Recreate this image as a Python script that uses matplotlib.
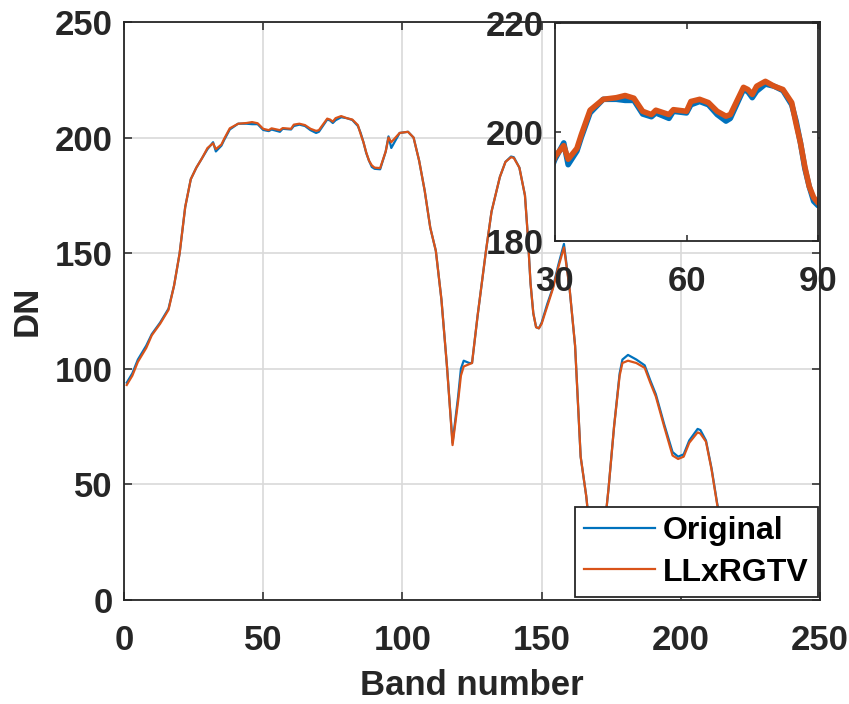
import numpy as np
import matplotlib
matplotlib.use('Agg')
import matplotlib.pyplot as plt

# Numeros de banda y valores DN
bandas = [1, 3, 5, 8, 10, 13, 16, 18, 20, 22, 24, 26, 28, 30, 32, 33, 35, 36,
          38, 41, 44, 46, 48, 50, 52, 53, 56, 57, 60, 61, 63, 65, 67, 69, 70,
          73, 74, 75, 76, 78, 80, 82, 84, 85, 86, 87, 88, 89, 90, 92, 94, 95,
          96, 99, 102, 104, 106, 108, 110, 112, 114, 116, 118, 120, 121, 122,
          124, 125, 127, 130, 132, 135, 137, 139, 140, 142, 144, 145, 146, 147,
          148, 149, 150, 152, 154, 156, 158, 160, 162, 164, 166, 168, 170, 172,
          174, 176, 178, 179, 181, 184, 187, 189, 191, 194, 197, 199, 201, 203,
          206, 207, 209, 211, 213, 215, 218, 220, 224]

original = [94, 98, 104, 110, 115, 120, 126, 136, 150, 170, 182, 187, 191,
            195, 198, 194, 196.5, 199, 203.5, 206, 206, 205.8, 205.8, 203.3,
            202.8, 203.5, 202.5, 203.8, 203.5, 205, 205.6, 205, 203.2, 202,
            202.5, 207.8, 207.4, 206.3, 207.5, 208.8, 208.4, 207.6, 205, 202,
            198, 193.3, 190, 187.3, 186.5, 186.3, 194, 200.5, 195.5, 202,
            202.5, 200, 190, 177, 161, 151, 130, 101, 68, 88, 100, 103.5,
            102.5, 102.5, 123, 151, 168, 183, 189.5, 191.8, 191.5, 187, 175,
            158, 137, 124, 118, 117.5, 120, 128, 135, 145, 154, 135, 110, 62,
            45, 22, 20, 25, 48, 75, 98, 104, 106, 104, 101.5, 95, 89, 76, 64,
            62, 63, 69, 74, 73.5, 69, 57, 42, 30, 15, 10, 8]

llxrgtv = [93, 97, 103, 109, 114.5, 119.5, 125.5, 136, 150, 170, 182, 187,
           191, 195.5, 197.5, 195, 197, 199.5, 204, 206, 206.3, 206.7, 206.2,
           203.8, 203.2, 204, 203.2, 204.1, 203.8, 205.6, 206, 205.4, 203.8,
           202.9, 203.2, 208.2, 207.8, 206.9, 208.4, 209.3, 208.4, 207.8,
           205.4, 201.5, 198, 193.6, 190, 188, 187, 186.8, 194, 200, 198, 202,
           202.5, 200, 190, 177, 161, 151, 130, 101, 67, 86, 97, 101, 102,
           102.5, 123, 151, 168, 183, 189.5, 191.5, 191.2, 187, 175, 158, 137,
           124, 118, 117.5, 119.5, 127, 134.5, 144, 152.5, 135, 110, 62, 45,
           22, 20, 25, 48, 75, 97, 102.5, 103.5, 102.5, 100.4, 94, 88, 75,
           62.5, 61, 62, 68, 72.5, 72, 68.5, 56.5, 41.5, 30, 15, 10, 8]

azul = '#0072BD'
naranja = '#D95319'
gris = '#262626'

plt.rcParams['font.family'] = ['Liberation Sans', 'DejaVu Sans']
plt.rcParams['font.weight'] = 'bold'
plt.rcParams['font.size'] = 25


def estilo(ax, largo):
    for s in ax.spines.values():
        s.set_color(gris)
        s.set_linewidth(1.3)
    ax.tick_params(direction='in', top=True, right=True, length=largo,
                   width=1.1, colors=gris, labelsize=25, pad=8)
    ax.tick_params(axis='x', pad=17)
    for t in ax.get_xticklabels() + ax.get_yticklabels():
        t.set_fontweight('bold')


fig = plt.figure(figsize=(8.49, 7.04), dpi=100)

# Grafico principal
ax = fig.add_axes([0.146, 0.1477, 0.82, 0.8211])
ax.plot(bandas, original, color=azul, lw=1.6, label='Original')
ax.plot(bandas, llxrgtv, color=naranja, lw=1.6, label='LLxRGTV')
ax.set_xlim([0, 250])
ax.set_ylim([0, 250])
ax.set_xticks([0, 50, 100, 150, 200, 250])
ax.set_yticks([0, 50, 100, 150, 200, 250])
ax.grid(color='#d9d9d9', lw=1.2)
ax.set_axisbelow(True)
estilo(ax, 6)
ax.set_xlabel('Band number', fontweight='bold', color=gris, labelpad=9)
ax.set_ylabel('DN', fontweight='bold', color=gris, labelpad=8)

leg = ax.legend(loc='lower right', bbox_to_anchor=(0.997, 0.005),
                fancybox=False, framealpha=1, edgecolor=gris,
                borderpad=0.3, labelspacing=0.35, handlelength=2.2,
                handletextpad=0.25, borderaxespad=0,
                prop={'weight': 'bold', 'size': 23})
leg.get_frame().set_linewidth(1.3)

# Grafico ampliado (bandas 30-90)
ins = fig.add_axes([0.6537, 0.6577, 0.3098, 0.3096])
ins.plot(bandas, original, color=azul, lw=4.0)
ins.plot(bandas, llxrgtv, color=naranja, lw=4.0)
ins.set_xlim([30, 90])
ins.set_ylim([180, 220])
ins.set_xticks([30, 60, 90])
ins.set_yticks([180, 200, 220])
estilo(ins, 4)

fig.savefig('out.png', dpi=100)
